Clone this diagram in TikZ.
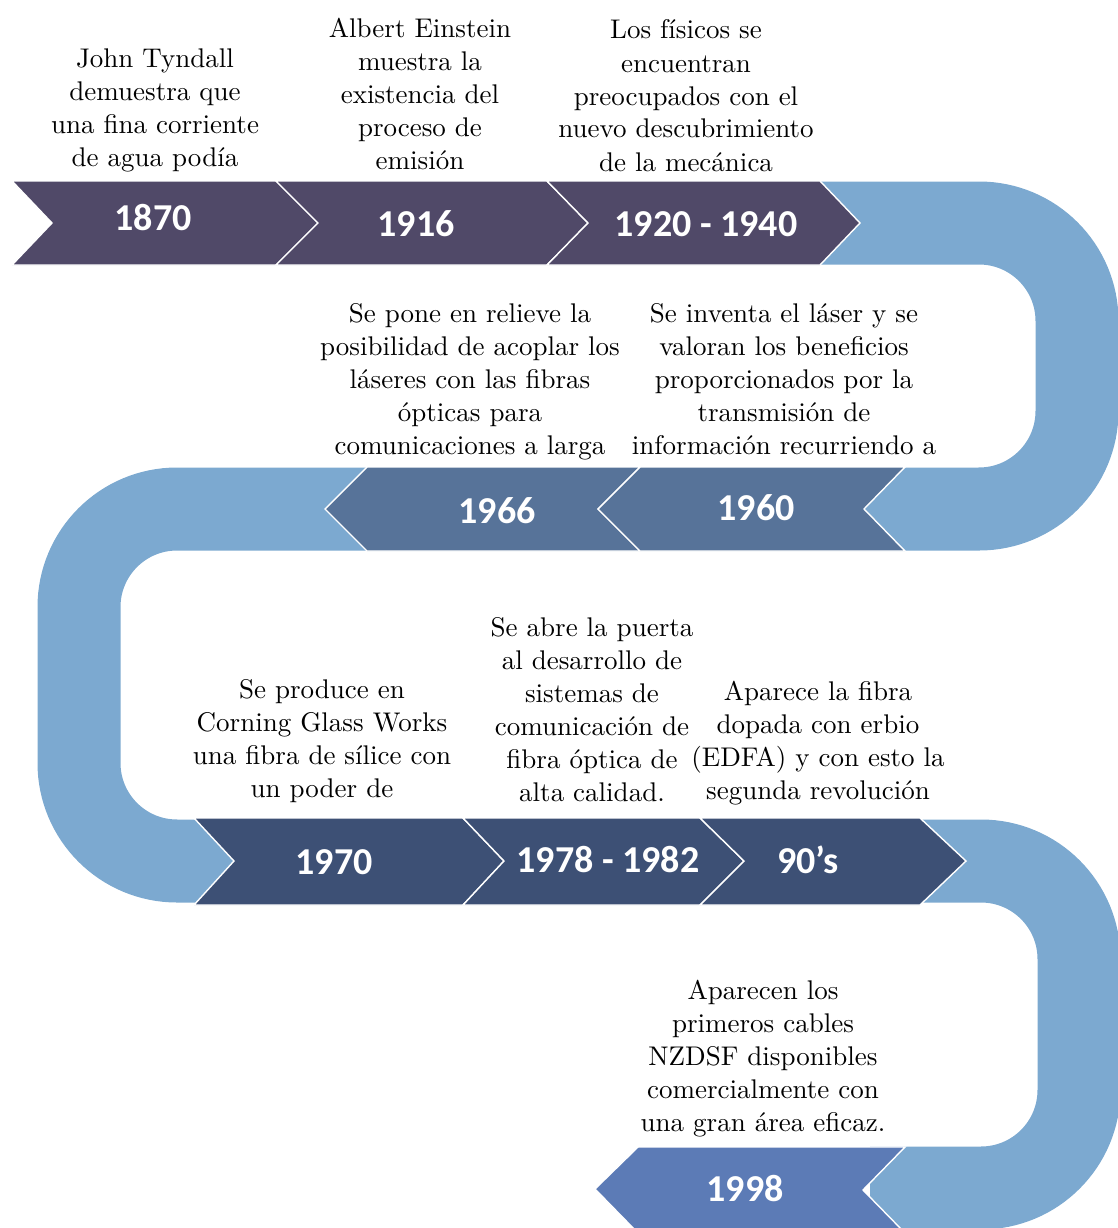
\documentclass[tikz,border=0pt]{standalone}
\usepackage{fontspec}
\newfontfamily\yearfont{Carlito}
\newfontfamily\notefont{lmroman10-regular}[Extension=.otf]
\definecolor{bandblue}{RGB}{124,169,208}
\definecolor{rowone}{RGB}{80,73,104}
\definecolor{rowtwo}{RGB}{87,115,153}
\definecolor{rowthree}{RGB}{61,80,117}
\definecolor{rowfour}{RGB}{92,123,182}
\tikzset{
  chev/.style={draw=white, line width=1.4pt, line join=miter},
  year/.style={text=white, font=\yearfont\bfseries\fontsize{38}{40}\selectfont, inner sep=0pt},
  % node placed by its last line: that baseline sits 7pt below the given point
  note/.style={align=center, font=\notefont\fontsize{27}{33}\selectfont, inner sep=0pt,
    text height=21pt, text depth=7pt, text=black}
}
\begin{document}
\begin{tikzpicture}[x=1pt,y=-1pt]
\useasboundingbox (0,0) rectangle (1118,1228);
\clip (0,0) rectangle (1118,1228);

% the winding ribbon behind the arrows
\draw[bandblue, line width=83pt, rounded corners=98pt]
  (790,223) -- (1077,223) -- (1077,509) -- (79,509) -- (79,861)
  -- (1079,861) -- (1079,1188) -- (870,1188);

% descriptions
\node[note] (t1870) at (155,159.5) {John Tyndall\\demuestra que\\una fina corriente\\de agua podía};
\node[note] (t1916) at (420,162) {Albert Einstein\\muestra la\\existencia del\\proceso de\\emisión};
\node[note] (t1920) at (686,164) {Los físicos se\\encuentran\\preocupados con el\\nuevo descubrimiento\\de la mecánica};
\node[note] (t1966) at (470,447) {Se pone en relieve la\\posibilidad de acoplar los\\láseres con las fibras\\ópticas para\\comunicaciones a larga};
\node[note] (t1960) at (784,447) {Se inventa el láser y se\\valoran los beneficios\\proporcionados por la\\transmisión de\\información recurriendo a};
\node[note] (t1970) at (322,790) {Se produce en\\Corning Glass Works\\una fibra de sílice con\\un poder de};
\node[note] (t1978) at (592,794) {Se abre la puerta\\al desarrollo de\\sistemas de\\comunicación de\\fibra óptica de\\alta calidad.};
\node[note] (t1990) at (818,792) {Aparece la fibra\\dopada con erbio\\(EDFA) y con esto la\\segunda revolución};
\node[note] (t1998) at (763,1124) {Aparecen los\\primeros cables\\NZDSF disponibles\\comercialmente con\\una gran área eficaz.};

% first row, pointing right
\filldraw[chev, fill=rowone] (12,181) -- (276,181) -- (318,223) -- (276,265) -- (12,265) -- (52,223) -- cycle;
\filldraw[chev, fill=rowone] (276,181) -- (547,181) -- (588,223) -- (547,265) -- (276,265) -- (318,223) -- cycle;
\filldraw[chev, fill=rowone] (547,181) -- (820,181) -- (860,223) -- (820,265) -- (547,265) -- (588,223) -- cycle;

% second row, pointing left
\filldraw[chev, fill=rowtwo] (325,509) -- (367,467) -- (640,467) -- (598,509) -- (640,551) -- (367,551) -- cycle;
\filldraw[chev, fill=rowtwo] (598,509) -- (640,467) -- (905,467) -- (864,509) -- (905,551) -- (640,551) -- cycle;

% third row, pointing right
\filldraw[chev, fill=rowthree] (194,818) -- (463,818) -- (504,861) -- (463,905) -- (194,905) -- (234,861) -- cycle;
\filldraw[chev, fill=rowthree] (463,818) -- (700,818) -- (744,861) -- (700,905) -- (463,905) -- (504,861) -- cycle;
\filldraw[chev, fill=rowthree] (700,818) -- (920,818) -- (966,861) -- (920,905) -- (700,905) -- (744,861) -- cycle;

% last row, pointing left
\filldraw[chev, fill=rowfour] (595,1189) -- (638,1147) -- (905,1147) -- (863,1190) -- (905,1233) -- (638,1233) -- cycle;

% years
\node[year] (y1870) at (153,218) {1870};
\node[year] (y1916) at (416,224) {1916};
\node[year] (y1920) at (706,224) {1920 - 1940};
\node[year] (y1966) at (497,511) {1966};
\node[year] (y1960) at (756,508) {1960};
\node[year] (y1970) at (334,862) {1970};
\node[year] (y1978) at (608,860) {1978 - 1982};
\node[year] (y1990) at (808,860) {90’s};
\node[year] (y1998) at (745,1189) {1998};
\end{tikzpicture}
\end{document}
